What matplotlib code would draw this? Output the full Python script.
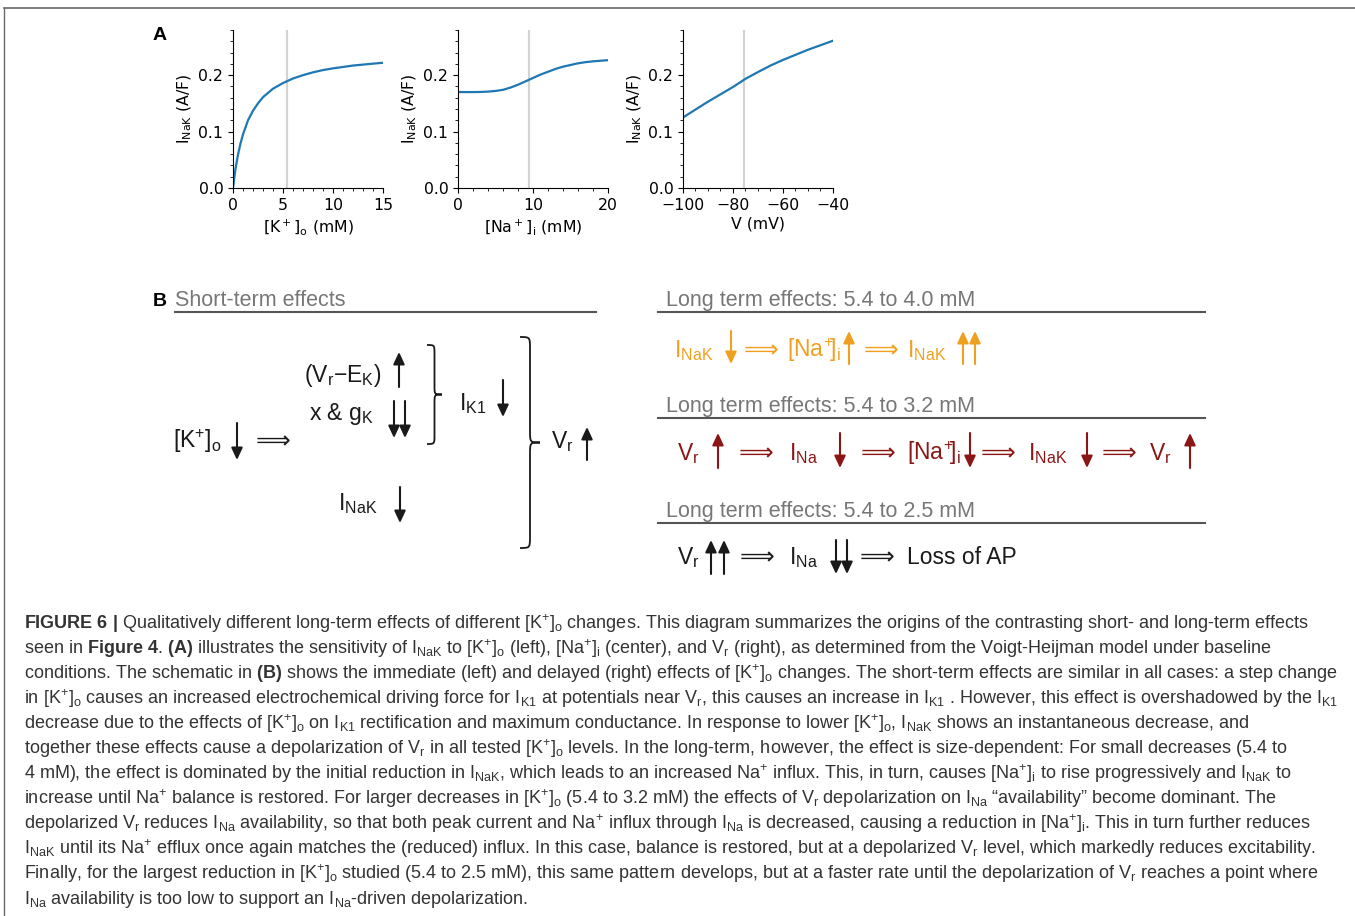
import matplotlib
matplotlib.use('Agg')
import matplotlib.pyplot as plt
import matplotlib.ticker as ticker
from matplotlib.path import Path
from matplotlib.patches import PathPatch

plt.rcParams['mathtext.fontset'] = 'custom'
plt.rcParams['mathtext.rm'] = 'Liberation Sans'
plt.rcParams['mathtext.it'] = 'Liberation Sans:italic'
plt.rcParams['mathtext.bf'] = 'Liberation Sans:bold'

# ---- panel A data ----
k_o = [0, 0.25, 0.5, 0.75, 1, 1.5, 2, 2.5, 3, 4, 5, 6, 7, 8, 9, 10, 12, 15]
inak_k = [0, 0.034, 0.059, 0.079, 0.095, 0.120, 0.137, 0.150, 0.161, 0.176,
          0.186, 0.194, 0.200, 0.205, 0.209, 0.212, 0.217, 0.222]
na_i = [0, 1, 2, 3, 4, 5, 6, 7, 8, 9, 10, 11, 12, 13, 14, 15, 16, 17, 18, 19, 20]
inak_na = [0.170, 0.170, 0.170, 0.1702, 0.1708, 0.172, 0.174, 0.178, 0.183, 0.189,
           0.195, 0.201, 0.206, 0.211, 0.215, 0.218, 0.221, 0.223, 0.2245, 0.2255, 0.2265]
v_m = [-100, -95, -90, -85, -80, -75, -70, -65, -60, -55, -50, -45, -40]
inak_v = [0.125, 0.139, 0.153, 0.166, 0.179, 0.1935, 0.2055, 0.217, 0.227,
          0.236, 0.245, 0.253, 0.261]
baseline = [5.4, 9.4, -75.5]

xlabels = [r'[K$^+$]$_\mathrm{o}$ (mM)', r'[Na$^+$]$_\mathrm{i}$ (mM)', 'V (mV)']
xlims = [(0, 15), (0, 20), (-100, -40)]
xmajor = [[0, 5, 10, 15], [0, 10, 20], [-100, -80, -60, -40]]
xminor = [1, 2, 5]

W, H = 1355, 916
fig = plt.figure(figsize=(W / 100, H / 100), dpi=100)

# overlay in pixel units for the schematic and caption
ax0 = fig.add_axes([0, 0, 1, 1])
ax0.set_xlim(0, W)
ax0.set_ylim(H, 0)
ax0.axis('off')

SANS = ['Liberation Sans', 'DejaVu Sans']

# frame lines
ax0.plot([4, W], [8, 8], color='#6a6a6a', lw=1.2)
ax0.plot([4, 4], [8, H], color='#6a6a6a', lw=1.0)

# ---- panel A ----
lefts = [233, 458, 683]
curves = [(k_o, inak_k), (na_i, inak_na), (v_m, inak_v)]
for i in range(3):
    ax = fig.add_axes([lefts[i] / W, 1 - 188 / H, 150 / W, 158 / H])
    ax.axvline(baseline[i], color='#d3d3d3', lw=1.6, zorder=0)
    ax.plot(curves[i][0], curves[i][1], color='#1f77b4', lw=1.6)
    ax.set_xlim(*xlims[i])
    ax.set_ylim(0, 0.28)
    ax.set_xticks(xmajor[i])
    ax.xaxis.set_minor_locator(ticker.MultipleLocator(xminor[i]))
    ax.set_yticks([0, 0.1, 0.2])
    ax.yaxis.set_minor_locator(ticker.MultipleLocator(0.02))
    ax.spines['top'].set_visible(False)
    ax.spines['right'].set_visible(False)
    ax.set_ylabel(r'$\mathrm{I_{NaK}}$ (A/F)', fontsize=11.3, math_fontfamily='dejavusans',
                  labelpad=3)
    ax.set_xlabel(xlabels[i], fontsize=11.3, math_fontfamily='dejavusans', labelpad=3)
    ax.tick_params(labelsize=11.3)
    ax.patch.set_alpha(0)

ax0.text(153, 36, 'A', fontsize=14, fontweight='bold', family=SANS, va='center', ha='left')

# ---- panel B ----
K = r'[K$^{+}$]$_{\mathrm{o}}$'
NAI = r'[Na$^{+}$]$_{\mathrm{i}}$'
NAI_S = r'[Na$^{\!+}\!\!$]$_{\mathrm{i}}$'
NAP = r'Na$^{+}$'
INAK = r'I$_{\mathrm{NaK}}$'
IK1 = r'I$_{\mathrm{K1}}$'
INA = r'I$_{\mathrm{Na}}$'
VR = r'V$_{\mathrm{r}}$'
DARR = '\u27f9'

orange = '#f0a020'
darkred = '#8b1616'
black = '#1a1a1a'
gray_txt = '#777777'
gray_line = '#555555'
FS = 16.5


def varrow(x, y_tail, y_head, color):
    ax0.annotate('', xy=(x, y_head), xytext=(x, y_tail),
                 arrowprops=dict(arrowstyle='-|>,head_length=0.6,head_width=0.28',
                                 color=color, lw=1.5, shrinkA=0, shrinkB=0,
                                 mutation_scale=12))


def brace(x0, y1, y2, w, color=black):
    xm = x0 + w / 2
    ym = (y1 + y2) / 2
    r = w * 0.6
    verts = [(x0, y1), (xm, y1), (xm, y1), (xm, y1 + r), (xm, ym - r),
             (xm, ym), (xm, ym), (x0 + w, ym), (xm, ym), (xm, ym), (xm, ym + r),
             (xm, y2 - r), (xm, y2), (xm, y2), (x0, y2)]
    codes = [Path.MOVETO] + [Path.CURVE4] * 3 + [Path.LINETO] + [Path.CURVE4] * 6 + \
            [Path.LINETO] + [Path.CURVE4] * 3
    ax0.add_patch(PathPatch(Path(verts, codes), fill=False, ec=color, lw=1.3))


def txt(x, y, s, color=black, size=FS, fam=SANS):
    ax0.text(x, y, s, color=color, fontsize=size, family=fam, va='baseline', ha='left')


def header(x, y, s, x1, x2, yl):
    txt(x, y, s, color=gray_txt, size=15.5)
    ax0.plot([x1, x2], [yl, yl], color=gray_line, lw=1.5)


ax0.text(153, 306, 'B', fontsize=14, fontweight='bold', family=SANS, va='baseline')
header(175, 306, 'Short-term effects', 175, 596, 312)

# short-term schematic
txt(304, 382, '(V$_{\\mathrm{r}}$\u2212E$_{\\mathrm{K}}$)')
varrow(399, 387, 352, black)
txt(309, 420, r'x & g$_{\mathrm{K}}$')
varrow(394, 401, 438, black)
varrow(405, 401, 438, black)
brace(427, 345, 444, 15)
txt(459, 410, IK1)
varrow(503, 380, 417, black)
txt(173, 448, K)
varrow(237, 423, 460, black)
txt(256, 448, DARR, size=17.5, fam=['DejaVu Sans'])
txt(338, 510, INAK)
varrow(400, 487, 523, black)
brace(520, 337, 548, 20)
txt(551, 448, VR)
varrow(587, 460, 427, black)

# long-term rows
header(666, 306, 'Long term effects: 5.4 to 4.0 mM', 658, 1205, 312)
header(666, 412, 'Long term effects: 5.4 to 3.2 mM', 658, 1205, 418)
header(666, 517, 'Long term effects: 5.4 to 2.5 mM', 658, 1205, 523)

rows = [
    (357, 331, 364, orange,
     [(674, INAK), (744, DARR), (787, NAI_S), (864, DARR), (907, INAK)],
     [(731, 'd'), (849, 'u'), (963, 'u'), (975, 'u')]),
    (460, 433, 468, darkred,
     [(677, VR), (739, DARR), (789, INA), (861, DARR), (907, NAI_S), (981, DARR),
      (1028, INAK), (1102, DARR), (1149, VR)],
     [(718, 'u'), (840, 'd'), (970, 'd'), (1087, 'd'), (1190, 'u')]),
    (564, 540, 574, black,
     [(677, VR), (740, DARR), (789, INA), (860, DARR), (907, 'Loss of AP')],
     [(711, 'u'), (724, 'u'), (836, 'd'), (847, 'd')]),
]
for yb, ya, yz, col, items, arrs in rows:
    for x, s in items:
        if s == DARR:
            txt(x, yb, s, color=col, size=17.5, fam=['DejaVu Sans'])
        else:
            txt(x, yb, s, color=col)
    for x, d in arrs:
        if d == 'u':
            varrow(x, yz, ya, col)
        else:
            varrow(x, ya, yz, col)

# ---- caption ----
cap = [
    r'$\mathbf{FIGURE\ 6\ |}$ Qualitatively different long-term effects of different ' + K +
    ' changes. This diagram summarizes the origins of the contrasting short- and long-term effects',
    'seen in ' + r'$\mathbf{Figure\ 4}$. $\mathbf{(A)}$' + ' illustrates the sensitivity of ' + INAK +
    ' to ' + K + ' (left), ' + NAI + ' (center), and ' + VR +
    ' (right), as determined from the Voigt-Heijman model under baseline',
    'conditions. The schematic in ' + r'$\mathbf{(B)}$' +
    ' shows the immediate (left) and delayed (right) effects of ' + K +
    ' changes. The short-term effects are similar in all cases: a step change',
    'in ' + K + ' causes an increased electrochemical driving force for ' + IK1 +
    ' at potentials near ' + VR + ', this causes an increase in ' + IK1 +
    ' . However, this effect is overshadowed by the ' + IK1,
    'decrease due to the effects of ' + K + ' on ' + IK1 +
    ' rectification and maximum conductance. In response to lower ' + K + ', ' + INAK +
    ' shows an instantaneous decrease, and',
    'together these effects cause a depolarization of ' + VR + ' in all tested ' + K +
    ' levels. In the long-term, however, the effect is size-dependent: For small decreases (5.4 to',
    '4 mM), the effect is dominated by the initial reduction in ' + INAK +
    ', which leads to an increased ' + NAP + ' influx. This, in turn, causes ' + NAI +
    ' to rise progressively and ' + INAK + ' to',
    'increase until ' + NAP + ' balance is restored. For larger decreases in ' + K +
    ' (5.4 to 3.2 mM) the effects of ' + VR + ' depolarization on ' + INA +
    ' \u201cavailability\u201d become dominant. The',
    'depolarized ' + VR + ' reduces ' + INA + ' availability, so that both peak current and ' +
    NAP + ' influx through ' + INA + ' is decreased, causing a reduction in ' + NAI +
    '. This in turn further reduces',
    INAK + ' until its ' + NAP +
    ' efflux once again matches the (reduced) influx. In this case, balance is restored, '
    'but at a depolarized ' + VR + ' level, which markedly reduces excitability.',
    'Finally, for the largest reduction in ' + K +
    ' studied (5.4 to 2.5 mM), this same pattern develops, but at a faster rate until the depolarization of ' +
    VR + ' reaches a point where',
    INA + ' availability is too low to support an ' + INA + '-driven depolarization.',
]
for i, line in enumerate(cap):
    ax0.text(24, 629 + 25 * i, line, fontsize=13, family=SANS, color='#333333',
             va='baseline', ha='left')

fig.savefig('out.png', dpi=100)
